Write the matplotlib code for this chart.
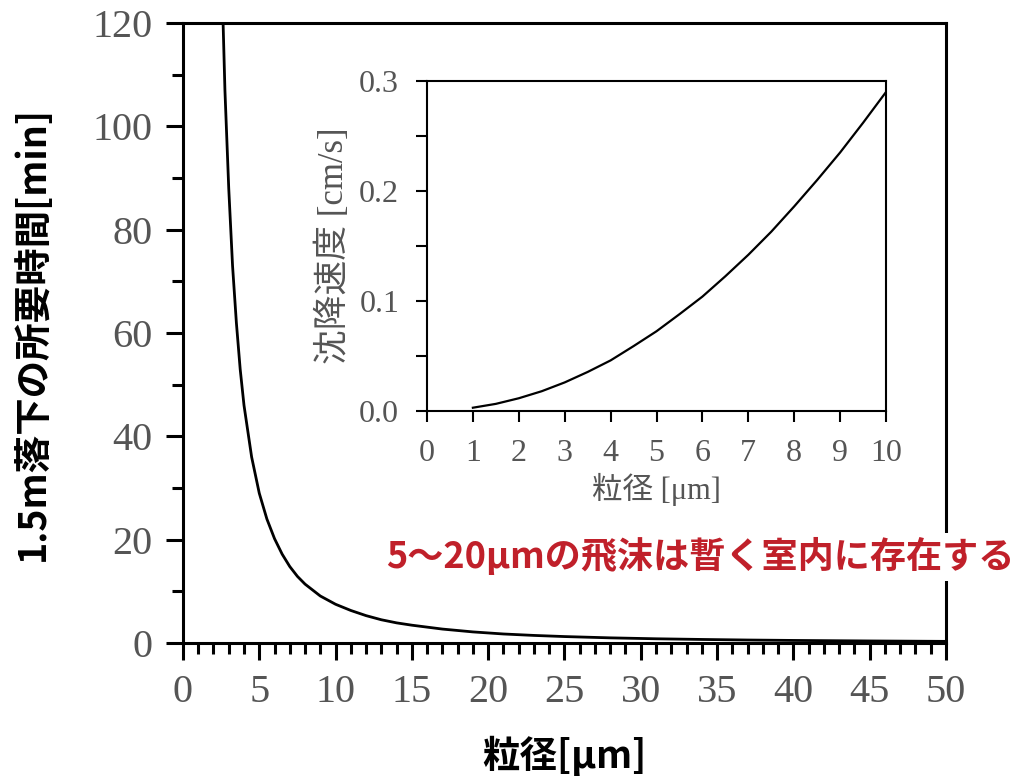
import numpy as np
import matplotlib
matplotlib.use("Agg")
import matplotlib.pyplot as plt
from matplotlib.ticker import MultipleLocator

# ---- data ----
# main: time to fall 1.5 m [min] vs droplet diameter [um]
diam_um = [2.63, 2.75, 3.0, 3.25, 3.5, 3.75, 4.0, 4.5, 5.0, 5.5, 6.0, 6.5,
           7.0, 7.5, 8.0, 9.0, 10.0, 11.0, 12.0, 13.0, 14.0, 15.0, 17.0,
           19.0, 21.0, 23.0, 25.0, 28.0, 31.0, 34.0, 37.0, 40.0, 45.0, 50.0]
fall_min = [120.0, 107.0, 88.0, 73.0, 62.0, 53.0, 46.0, 36.0, 29.0, 24.0,
            20.2, 17.2, 14.8, 12.9, 11.4, 9.1, 7.5, 6.3, 5.3, 4.5, 3.9,
            3.45, 2.7, 2.15, 1.75, 1.47, 1.25, 1.0, 0.82, 0.69, 0.58, 0.5,
            0.4, 0.32]

# inset: settling velocity [cm/s] vs diameter [um]
inset_diam = [1.0, 1.5, 2.0, 2.5, 3.0, 3.5, 4.0, 4.5, 5.0, 5.5, 6.0, 6.5,
              7.0, 7.5, 8.0, 8.5, 9.0, 9.5, 10.0]
settle_v = [0.003, 0.0065, 0.0116, 0.018, 0.026, 0.0355, 0.046, 0.059,
            0.0725, 0.088, 0.104, 0.1225, 0.142, 0.163, 0.186, 0.21,
            0.235, 0.262, 0.29]

main_xlabel = "粒径[μm]"
main_ylabel = "1.5m落下の所要時間[min]"
inset_xlabel = "粒径 [μm]"
inset_ylabel = "沈降速度 [cm/s]"
note = "5～20μmの飛沫は暫く室内に存在する"

SERIF = ["Liberation Serif", "Noto Sans CJK JP"]
SANS = ["Noto Sans CJK JP", "DejaVu Sans"]
GRAY = "#555555"

fig = plt.figure(figsize=(10.21, 7.78), dpi=100)

# ============================================================
#  main axes
# ============================================================
ax = fig.add_axes([0.1792, 0.1735, 0.7473, 0.7969])
ax.plot(diam_um, fall_min, color="black", linewidth=2.0)
ax.set_xlim(0, 50)
ax.set_ylim(0, 120)
ax.xaxis.set_major_locator(MultipleLocator(5))
ax.xaxis.set_minor_locator(MultipleLocator(1))
ax.yaxis.set_major_locator(MultipleLocator(20))
ax.yaxis.set_minor_locator(MultipleLocator(10))
ax.tick_params(which="major", direction="out", length=12, width=2.2,
               labelsize=29, labelcolor=GRAY, pad=10)
ax.tick_params(which="minor", direction="out", length=8, width=2.2)
for lab in ax.get_xticklabels() + ax.get_yticklabels():
    lab.set_family(SERIF)
for sp in ax.spines.values():
    sp.set_linewidth(2.2)
ax.set_xlabel(main_xlabel, family=SANS, fontweight="bold", fontsize=27,
              labelpad=18)
ax.set_ylabel(main_ylabel, family=SANS, fontweight="bold", fontsize=27,
              labelpad=29)

# ============================================================
#  inset axes
# ============================================================
ins = fig.add_axes([0.4182, 0.4717, 0.4496, 0.4242])
ins.plot(inset_diam, settle_v, color="black", linewidth=1.6)
ins.set_xlim(0, 10)
ins.set_ylim(0, 0.3)
ins.xaxis.set_major_locator(MultipleLocator(1))
ins.yaxis.set_major_locator(MultipleLocator(0.1))
ins.yaxis.set_minor_locator(MultipleLocator(0.05))
ins.yaxis.set_major_formatter(lambda v, p: f"{v:.1f}")
ins.tick_params(which="major", direction="out", length=8, width=1.5,
                labelsize=23, labelcolor=GRAY, pad=12)
ins.tick_params(which="minor", direction="out", length=8, width=1.5)
for lab in ins.get_xticklabels() + ins.get_yticklabels():
    lab.set_family(SERIF)
for sp in ins.spines.values():
    sp.set_linewidth(1.5)
ins.set_xlabel(inset_xlabel, family=SERIF, fontsize=22, color=GRAY,
               labelpad=4)
ins.set_ylabel(inset_ylabel, family=SERIF, fontsize=25, color=GRAY,
               labelpad=6)

# red note with a white box over the right spine
fig.text(0.9935, 0.284, note, family=SANS, fontweight="bold", fontsize=26,
         color="#c0202a", ha="right", va="center", zorder=10,
         bbox=dict(facecolor="white", edgecolor="none", pad=4))

fig.savefig("out.png", dpi=100)
